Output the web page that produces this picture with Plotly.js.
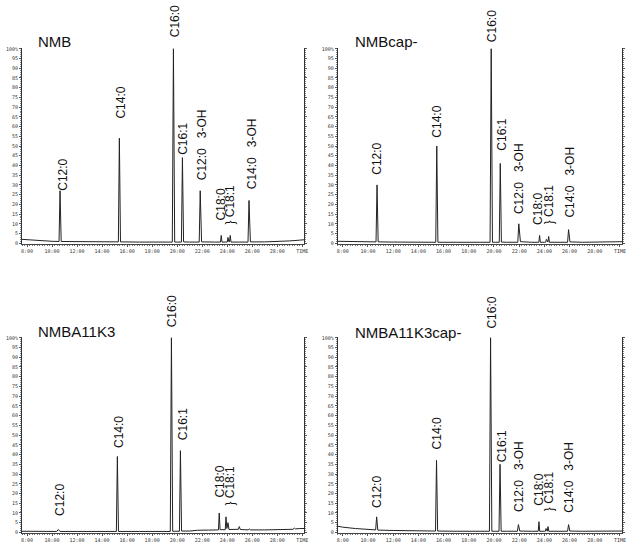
<!DOCTYPE html>
<html>
<head>
<meta charset="utf-8">
<script src="https://cdn.plot.ly/plotly-3.0.1.min.js"></script>
<style>html,body{margin:0;padding:0;background:#fff;}#chart{width:636px;height:548px;}</style>
</head>
<body>
<div id="chart"></div>
<script>
// ---------- Data (retention time in minutes, relative intensity %) ----------
const panelNames = ["NMB", "NMBcap-", "NMBA11K3", "NMBA11K3cap-"];

// Panel 1: NMB
const t1 = [7.6, 8.0, 8.5, 9.0, 10.0, 10.56, 10.64, 10.73, 12.0, 14.0, 15.30, 15.38, 15.47, 17.0, 19.0, 19.61, 19.70, 19.80, 20.0, 20.34, 20.42, 20.51, 21.0, 21.76, 21.84, 21.95, 23.0, 23.46, 23.52, 23.58, 24.0, 24.06, 24.12, 24.18, 24.24, 24.30, 25.0, 25.66, 25.74, 25.85, 27.0, 28.0, 29.0, 29.8, 30.16];
const y1 = [2.0, 1.8, 1.5, 1.3, 1.0, 0.9, 27, 0.9, 0.8, 0.7, 0.7, 54, 0.7, 0.6, 0.6, 0.6, 100, 0.6, 0.6, 0.6, 44, 0.7, 0.6, 0.6, 27, 0.7, 0.6, 0.6, 4, 0.6, 0.6, 3, 0.8, 0.8, 4, 0.6, 0.6, 0.6, 22, 0.7, 0.7, 0.8, 1.2, 1.6, 1.8];

// Panel 2: NMBcap-
const t2 = [7.6, 8.5, 9.5, 10.64, 10.72, 10.81, 12.0, 14.0, 15.38, 15.46, 15.55, 17.0, 19.0, 19.69, 19.78, 19.88, 20.1, 20.42, 20.50, 20.59, 21.0, 21.89, 21.97, 22.10, 23.0, 23.56, 23.62, 23.68, 24.0, 24.10, 24.16, 24.22, 24.28, 24.34, 24.40, 25.0, 25.84, 25.92, 26.03, 27.0, 28.0, 29.0, 30.16];
const y2 = [1.0, 0.9, 0.8, 0.7, 30, 0.7, 0.6, 0.5, 0.5, 50, 0.5, 0.5, 0.5, 0.5, 100, 0.5, 0.5, 0.5, 41, 0.6, 0.5, 0.5, 10, 0.8, 0.5, 0.5, 4, 0.5, 0.5, 0.5, 2, 0.6, 0.6, 3.5, 0.5, 0.5, 0.5, 7, 0.7, 0.5, 0.5, 0.6, 0.8];

// Panel 3: NMBA11K3
const t3 = [7.6, 8.5, 9.5, 10.38, 10.50, 10.64, 12.0, 14.0, 15.14, 15.22, 15.31, 17.0, 19.0, 19.45, 19.54, 19.64, 19.9, 20.18, 20.26, 20.35, 21.0, 21.6, 22.5, 23.30, 23.36, 23.43, 23.84, 23.90, 23.97, 24.06, 24.14, 24.6, 24.90, 24.96, 25.05, 25.4, 25.70, 25.76, 25.85, 27.0, 28.0, 29.25, 29.36, 29.45, 29.8, 30.16];
const y3 = [0.6, 0.5, 0.5, 0.5, 1.5, 0.5, 0.5, 0.5, 0.5, 39, 0.5, 0.5, 0.5, 0.5, 100, 0.6, 0.6, 0.6, 42, 0.7, 0.7, 1.1, 1.2, 1.3, 10, 1.4, 1.4, 8, 2.0, 5, 1.5, 1.5, 1.6, 3, 1.5, 1.4, 1.3, 1.8, 1.3, 1.3, 1.5, 1.6, 2.2, 1.8, 2.0, 2.0];

// Panel 4: NMBA11K3cap-
const t4 = [7.6, 8.0, 9.0, 10.0, 10.61, 10.69, 10.78, 12.0, 14.0, 15.36, 15.44, 15.53, 17.0, 19.0, 19.64, 19.73, 19.83, 20.1, 20.40, 20.48, 20.57, 21.0, 21.86, 21.94, 22.05, 23.0, 23.51, 23.57, 23.63, 24.0, 24.07, 24.13, 24.19, 24.23, 24.29, 24.35, 25.0, 25.84, 25.92, 26.02, 27.0, 28.0, 29.0, 30.16];
const y4 = [3.2, 2.7, 2.0, 1.5, 1.3, 8, 1.2, 1.0, 0.8, 0.7, 37, 0.7, 0.6, 0.6, 0.6, 100, 0.6, 0.6, 0.6, 35, 0.6, 0.6, 0.6, 4, 0.7, 0.6, 0.6, 5.5, 0.6, 0.6, 0.6, 2, 0.6, 0.6, 3, 0.6, 0.6, 0.6, 4, 0.7, 0.6, 0.6, 0.6, 0.7];

// Peak labels per panel
const labels1 = ["C12:0", "C14:0", "C16:0", "C16:1", "C12:0   3-OH", "C18:0", "} C18:1", "C14:0   3-OH"];
const labelT1 = [10.88, 15.50, 19.84, 20.46, 21.98, 23.50, 24.24, 25.98];
const labelY1 = [26, 63, 105, 44.4, 31.6, 10.7, 8.7, 26.5];

const labels2 = ["C12:0", "C14:0", "C16:0", "C16:1", "C12:0   3-OH", "C18:0", "} C18:1", "C14:0   3-OH"];
const labelT2 = [10.72, 15.52, 19.86, 20.61, 22.00, 23.54, 24.37, 26.00];
const labelY2 = [34.2, 53, 102.5, 46.4, 13.8, 8.2, 8.7, 12.2];

const labels3 = ["C12:0", "C14:0", "C16:0", "C16:1", "C18:0", "} C18:1"];
const labelT3 = [10.58, 15.36, 19.66, 20.42, 23.44, 24.24];
const labelY3 = [7.6, 42.4, 104.3, 46.6, 17, 12.9];

const labels4 = ["C12:0", "C14:0", "C16:0", "C16:1", "C12:0   3-OH", "C18:0", "} C18:1", "C14:0   3-OH"];
const labelT4 = [10.66, 15.46, 19.81, 20.61, 22.00, 23.60, 24.32, 25.94];
const labelY4 = [11.7, 41.5, 103.5, 34.8, 9.3, 12.9, 10.1, 9.3];

// Axis ticks
const xTickVals = [8, 10, 12, 14, 16, 18, 20, 22, 24, 26, 28, 30];
const xTickText = ["8:00", "10:00", "12:00", "14:00", "16:00", "18:00", "20:00", "22:00", "24:00", "26:00", "28:00", "TIME"];
const yTickVals = [0, 5, 10, 15, 20, 25, 30, 35, 40, 45, 50, 55, 60, 65, 70, 75, 80, 85, 90, 95, 100];
const yTickText = ["0", "5", "10", "15", "20", "25", "30", "35", "40", "45", "50", "55", "60", "65", "70", "75", "80", "85", "90", "95", "100%"];

// ---------- Build ----------
const series = [[t1, y1], [t2, y2], [t3, y3], [t4, y4]];
const labelSets = [[labels1, labelT1, labelY1], [labels2, labelT2, labelY2], [labels3, labelT3, labelY3], [labels4, labelT4, labelY4]];
const suffix = ["", "2", "3", "4"];
const xDomains = [[0.0346, 0.4785], [0.531, 0.978], [0.0346, 0.4785], [0.531, 0.978]];
const yDomains = [[0.5547, 0.9124], [0.5547, 0.9124], [0.027, 0.385], [0.027, 0.385]];
const titlePos = [[36, 41.5], [352.7, 41.5], [36, 331.5], [352.7, 332.5]];
const Y_MIN = -0.4, Y_MAX = 100.4;

const lineColor = "#222";
const textFont = {family: "Liberation Sans, Arial, sans-serif", size: 12, color: "#111"};

const data = series.map((s, i) => ({
  x: s[0], y: s[1], type: "scatter", mode: "lines",
  line: {color: lineColor, width: 1},
  xaxis: "x" + suffix[i], yaxis: "y" + suffix[i],
  hoverinfo: "skip", showlegend: false
}));

const layout = {
  width: 636, height: 548,
  margin: {l: 0, r: 0, t: 0, b: 0},
  paper_bgcolor: "#fff", plot_bgcolor: "#fff",
  showlegend: false,
  annotations: []
};

for (let i = 0; i < 4; i++) {
  const xa = {
    domain: xDomains[i], range: [7.6, 30.16], anchor: "y" + suffix[i],
    tickmode: "array", tickvals: xTickVals, ticktext: xTickText,
    tickfont: {family: "DejaVu Sans Mono, monospace", size: 5, color: "#333"},
    ticks: "outside", ticklen: 2, tickcolor: "#555",
    minor: {tickmode: "linear", tick0: 0, dtick: 0.2, ticks: "outside", ticklen: 1.2, tickcolor: "#777"},
    showline: true, linecolor: "#444", linewidth: 1,
    showgrid: false, zeroline: false, fixedrange: true
  };
  const ya = {
    domain: yDomains[i], range: [Y_MIN, Y_MAX], anchor: "x" + suffix[i],
    tickmode: "array", tickvals: yTickVals, ticktext: yTickText,
    tickfont: {family: "DejaVu Sans Mono, monospace", size: 5, color: "#333"},
    ticks: "outside", ticklen: 2, tickcolor: "#555",
    minor: {tickmode: "linear", tick0: 0, dtick: 1, ticks: "outside", ticklen: 1, tickcolor: "#888"},
    showline: true, linecolor: "#333", linewidth: 1, mirror: "ticks",
    showgrid: false, zeroline: false, fixedrange: true
  };
  layout["xaxis" + suffix[i]] = xa;
  layout["yaxis" + suffix[i]] = ya;

  // pixels per % for this panel (used only to lift labels placed above the axis top)
  const pxPerUnit = (yDomains[i][1] - yDomains[i][0]) * 548 / (Y_MAX - Y_MIN);

  // panel title
  layout.annotations.push({
    xref: "paper", yref: "paper",
    x: titlePos[i][0] / 636, y: 1 - titlePos[i][1] / 548,
    xanchor: "left", yanchor: "middle",
    text: panelNames[i], showarrow: false,
    font: {family: "Liberation Sans, Arial, sans-serif", size: 15, color: "#111"}
  });

  // peak labels
  const [txt, lx, ly] = labelSets[i];
  for (let k = 0; k < txt.length; k++) {
    const over = Math.max(0, ly[k] - 100);
    layout.annotations.push({
      xref: "x" + suffix[i], yref: "y" + suffix[i],
      x: lx[k], y: Math.min(ly[k], 100), yshift: over * pxPerUnit,
      text: txt[k].replace(/ /g, "&nbsp;"),
      textangle: -90, showarrow: false,
      xanchor: "center", yanchor: "bottom",
      font: textFont
    });
  }
}

Plotly.newPlot("chart", data, layout, {staticPlot: true, displayModeBar: false});
</script>
</body>
</html>
